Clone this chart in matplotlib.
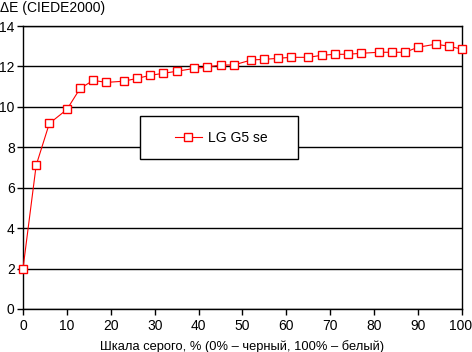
import matplotlib
matplotlib.use("Agg")
from matplotlib import pyplot as plt
from matplotlib.patches import Rectangle
from matplotlib.transforms import ScaledTranslation

plt.rcParams['font.family'] = ['Liberation Sans', 'DejaVu Sans']

# data
gray = [0, 3, 6, 10, 13, 16, 19, 23, 26, 29, 32, 35, 39, 42, 45, 48,
        52, 55, 58, 61, 65, 68, 71, 74, 77, 81, 84, 87, 90, 94, 97, 100]
dE = [2.0, 7.11, 9.18, 9.87, 10.91, 11.31, 11.21, 11.27, 11.41, 11.56, 11.66, 11.76,
      11.90, 11.97, 12.07, 12.07, 12.32, 12.35, 12.40, 12.45, 12.45, 12.55, 12.60,
      12.60, 12.65, 12.70, 12.70, 12.70, 12.95, 13.10, 13.00, 12.85]
series_name = "LG G5 se"
x_ticks = list(range(0, 101, 10))
y_ticks = list(range(0, 15, 2))

W, H = 472, 352
fig = plt.figure(figsize=(W / 100, H / 100), dpi=100)
ax = fig.add_axes([23 / W, (H - 309) / H, 439 / W, 283 / H])

for y in y_ticks:
    ax.axhline(y, color='black', lw=1, zorder=1)

line, = ax.plot(gray, dE, color='red', lw=0.8, marker='s', markersize=5.2,
                markerfacecolor='white', markeredgecolor='red', markeredgewidth=1,
                clip_on=False, zorder=3, label=series_name)

ax.set_xlim(0, 100)
ax.set_ylim(0, 14)
ax.set_xticks(x_ticks)
ax.set_yticks(y_ticks)
for s in ax.spines.values():
    s.set_color('black')
    s.set_linewidth(1)
ax.tick_params(direction='out', length=4, width=1, labelsize=10, pad=2)
ax.tick_params(axis='x', pad=3)

# nudge the "100" label so it stays inside the picture
last = ax.get_xticklabels()[-1]
last.set_transform(last.get_transform() + ScaledTranslation(-1.5 / 100, 0, fig.dpi_scale_trans))

ax.set_xlabel('Шкала серого, % (0% – черный, 100% – белый)', fontsize=9.3, labelpad=5)
fig.text(0 / W, 1 - 8 / H, 'ΔE (CIEDE2000)', fontsize=10, va='center', ha='left')

# legend box
box = Rectangle((140 / W, 1 - 159 / H), 158 / W, 43 / H, transform=fig.transFigure,
                facecolor='white', edgecolor='black', lw=1, zorder=5)
fig.patches.append(box)
leg = fig.legend(handles=[line], loc='center', bbox_to_anchor=(221 / W, 1 - 138 / H),
                 frameon=False, fontsize=10, handlelength=2.0, handletextpad=0.4)
leg.set_zorder(6)

fig.savefig('out.png', dpi=100)
